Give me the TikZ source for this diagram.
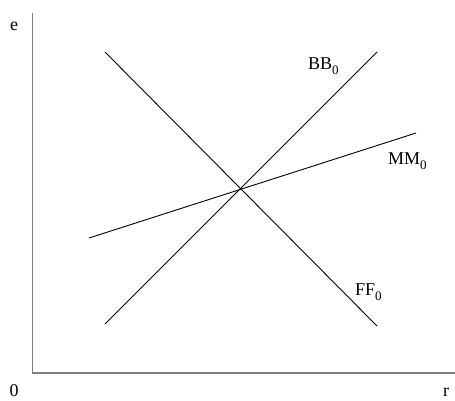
\documentclass[tikz,border=0pt]{standalone}
\usepackage{fontspec}
\setmainfont{Liberation Serif}
\begin{document}
\begin{tikzpicture}[x=1pt,y=-1pt,
  axisline/.style={draw=black!50,line width=1.6pt},
  curve/.style={draw=black,line width=0.9pt},
  lbl/.style={font=\fontsize{18}{18}\selectfont,inner sep=0pt},
  axlbl/.style={font=\fontsize{18}{18}\selectfont,inner sep=0pt,anchor=base}]
\useasboundingbox (0,0) rectangle (455,400);
% axes
\coordinate (top) at (32.5,13);
\coordinate (orig) at (32.5,373);
\coordinate (right) at (455,373);
\draw[axisline] (top) -- (orig) -- (right);
% curves
\coordinate (F1) at (105,52);
\coordinate (F2) at (377,326);
\coordinate (B1) at (105,324);
\coordinate (B2) at (377,52);
\coordinate (M1) at (89,238);
\coordinate (M2) at (416,133);
\draw[curve] (F1) -- (F2);
\draw[curve] (B1) -- (B2);
\draw[curve] (M1) -- (M2);
% labels
\node[axlbl] (le) at (14,30) {e};
\node[axlbl] (l0) at (14,396) {0};
\node[axlbl] (lr) at (446,396) {r};
\node[lbl,anchor=base west] (lbb) at (308,69) {BB\raisebox{-5pt}{\fontsize{13}{13}\selectfont 0}};
\node[lbl,anchor=base west] (lmm) at (388,164) {MM\raisebox{-5pt}{\fontsize{13}{13}\selectfont 0}};
\node[lbl,anchor=base west] (lff) at (355,295) {FF\raisebox{-5pt}{\fontsize{13}{13}\selectfont 0}};
\end{tikzpicture}
\end{document}
